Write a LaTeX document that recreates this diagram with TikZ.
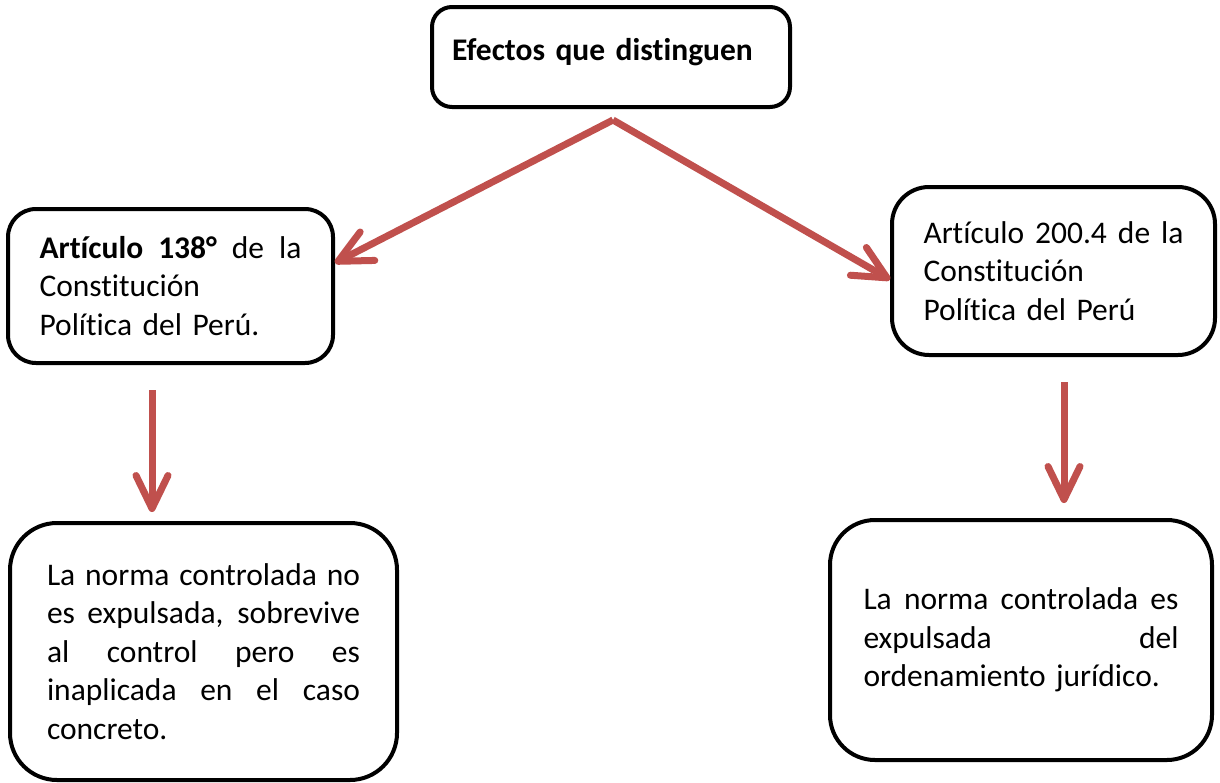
\documentclass[tikz,border=0pt]{standalone}
\usepackage{fontspec}
\setmainfont{Carlito}[Ligatures=NoCommon]
\usepackage{tikz}
\usetikzlibrary{arrows.meta}

\definecolor{arrowred}{RGB}{192,80,77}
\newcommand{\jline}[1]{\leavevmode\hbox to\hsize{\spaceskip=\fontdimen2\font plus 1fil\relax #1}}

\begin{document}
\begin{tikzpicture}[x=1pt,y=1pt,
  box/.style={draw=black, line width=4pt, fill=white, inner sep=0pt, align=left, font=\fontsize{31.5}{38.4}\selectfont},
  flow/.style={draw=arrowred, line width=7pt, -{Straight Barb[length=33pt,width=32pt,round]}}]
\useasboundingbox (0,0) rectangle (1220,-782);
\node [box, rounded corners=20pt, minimum width=358pt, minimum height=100pt, text width=318pt, text height=22pt, text depth=16pt] (top) at (611,-57) {\textbf{Efectos que distinguen}};
\node [box, rounded corners=28pt, minimum width=325pt, minimum height=154pt, text width=262pt] (ltop) at (170.5,-286) {\jline{\textbf{Artículo 138°} de la}\\ Constitución\\ Política del Perú.};
\node [box, rounded corners=37pt, minimum width=323pt, minimum height=168pt, text width=260pt] (rtop) at (1053.5,-271) {\jline{Artículo 200.4 de la}\\ Constitución\\ Política del Perú};
\node [box, rounded corners=47pt, minimum width=387pt, minimum height=257pt, text width=313pt] (lbot) at (203.5,-651.5) {\jline{La norma controlada no}\\ \jline{es expulsada, sobrevive}\\ \jline{al control pero es}\\ \jline{inaplicada en el caso}\\ concreto.};
\node [box, rounded corners=45pt, minimum width=382pt, minimum height=240pt, text width=315pt] (rbot) at (1021,-640) {\jline{La norma controlada es}\\ \jline{expulsada del}\\ ordenamiento jurídico.};
\coordinate (split) at ([xshift=2pt,yshift=-11pt]top.south);
\draw [flow] (split) -- (ltop.8);
\draw [flow] (split) -- (rtop.183);
\draw [flow, shorten <=25pt, shorten >=9pt] ([xshift=-18.5pt]ltop.south) -- ([xshift=-18.5pt]ltop.south |- lbot.north);
\draw [flow, shorten <=25pt, shorten >=15pt] ([xshift=10.5pt]rtop.south) -- ([xshift=10.5pt]rtop.south |- rbot.north);
\end{tikzpicture}
\end{document}
